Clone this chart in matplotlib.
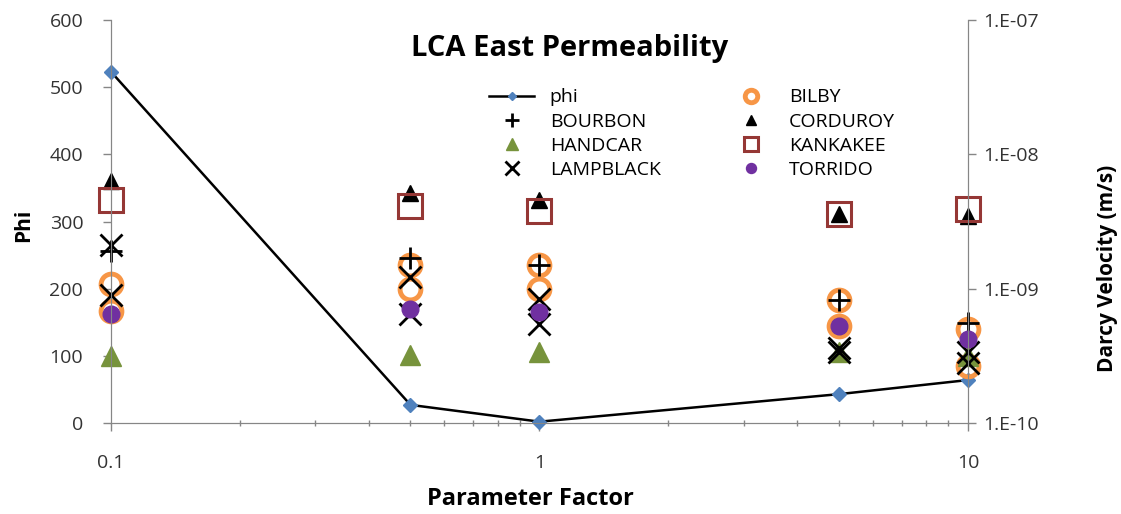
import math

import matplotlib
matplotlib.use("Agg")
from matplotlib import pyplot as plt
from matplotlib.ticker import FixedLocator, FuncFormatter, NullFormatter, LogLocator

plt.rcParams['font.family'] = ['Open Sans', 'DejaVu Sans']

# parameter factors
factors = [0.1, 0.5, 1, 5, 10]
phi = [523, 27, 2, 43, 64]

# darcy velocity (m/s) per well, two values where two markers show
bilby_x = [0.1, 0.1, 0.5, 0.5, 1, 1, 5, 5, 10, 10]
bilby_v = [1.08e-9, 6.8e-10, 1.5e-9, 1.0e-9, 1.5e-9, 1.0e-9, 8.2e-10, 5.3e-10, 5.0e-10, 2.66e-10]
bourbon_v = [1.9e-9, 1.7e-9, 1.5e-9, 8.2e-10, 5.6e-10]
corduroy_v = [6.3e-9, 5.2e-9, 4.6e-9, 3.6e-9, 3.5e-9]
handcar_v = [3.16e-10, 3.2e-10, 3.35e-10, 3.35e-10, 3.16e-10]
kankakee_v = [4.6e-9, 4.1e-9, 3.8e-9, 3.6e-9, 3.9e-9]
lampblack_x = [0.1, 0.1, 0.5, 0.5, 1, 1, 5, 5, 10, 10]
lampblack_v = [2.1e-9, 8.9e-10, 1.23e-9, 6.5e-10, 8.4e-10, 5.5e-10, 3.6e-10, 3.35e-10, 3.35e-10, 2.8e-10]
torrido_v = [6.5e-10, 7.1e-10, 6.7e-10, 5.3e-10, 4.2e-10]

GRAY = '#868686'

fig = plt.figure(figsize=(11.21, 5.14), dpi=100)
ax = fig.add_axes([0.099, 0.177, 0.7645, 0.784])
ax2 = ax.twinx()

h_phi, = ax.plot(factors, phi, color='black', lw=1.8, marker='D', ms=7,
                 mfc='#4F81BD', mec='#4F81BD', label='phi', zorder=3, clip_on=False)

h_bil, = ax2.plot(bilby_x, bilby_v, ls='none', marker='o', ms=15, mfc='none',
                  mec='#F79646', mew=3.5, label='BILBY', clip_on=False)
h_bou, = ax2.plot(factors, bourbon_v, ls='none', marker='+', ms=16, mew=2,
                  color='black', label='BOURBON', clip_on=False)
h_cor, = ax2.plot(factors, corduroy_v, ls='none', marker='^', ms=12,
                  color='black', label='CORDUROY', clip_on=False)
h_han, = ax2.plot(factors, handcar_v, ls='none', marker='^', ms=15,
                  color='#77933C', label='HANDCAR', clip_on=False)
h_kan, = ax2.plot(factors, kankakee_v, ls='none', marker='s', ms=17, mfc='none',
                  mec='#953735', mew=2.2, label='KANKAKEE', clip_on=False)
h_lam, = ax2.plot(lampblack_x, lampblack_v, ls='none', marker='x', ms=16, mew=2,
                  color='black', label='LAMPBLACK', clip_on=False)
h_tor, = ax2.plot(factors, torrido_v, ls='none', marker='o', ms=12,
                  color='#7030A0', label='TORRIDO', clip_on=False)

ax.set_xscale('log')
ax.set_xlim(0.1, 10)
ax.set_ylim(0, 600)
ax.set_yticks(range(0, 601, 100))
ax.xaxis.set_major_locator(FixedLocator([0.1, 1, 10]))
ax.xaxis.set_major_formatter(FuncFormatter(lambda v, p: '%g' % v))
ax.xaxis.set_minor_locator(LogLocator(base=10, subs=range(2, 10)))
ax.xaxis.set_minor_formatter(NullFormatter())

ax2.set_yscale('log')
ax2.set_ylim(1e-10, 1e-7)
ax2.yaxis.set_major_locator(FixedLocator([1e-10, 1e-9, 1e-8, 1e-7]))
ax2.yaxis.set_major_formatter(FuncFormatter(lambda v, p: '1.E-%02d' % round(-math.log10(v))))
ax2.yaxis.set_minor_formatter(NullFormatter())
ax2.yaxis.set_minor_locator(FixedLocator([]))

for a in (ax, ax2):
    a.spines['top'].set_visible(False)
    for s in ('left', 'right', 'bottom'):
        a.spines[s].set_color(GRAY)
    a.tick_params(axis='both', which='major', color=GRAY, length=6, width=1,
                  labelsize=14, labelcolor='#333333')
    a.tick_params(axis='both', which='minor', color=GRAY, length=5, width=1, direction='inout')
ax.tick_params(axis='x', which='major', pad=16)
ax.tick_params(axis='y', which='major', pad=14)
ax2.tick_params(axis='y', which='major', pad=5)

ax.set_ylabel('Phi', fontsize=15, fontweight='bold')
ax.yaxis.set_label_coords(-0.09, 0.49)
ax.set_xlabel('Parameter Factor', fontsize=17, fontweight='bold')
ax.xaxis.set_label_coords(0.49, -0.16)
ax2.set_ylabel('Darcy Velocity (m/s)', fontsize=15, fontweight='bold')
ax2.yaxis.set_label_coords(1.15, 0.385)

fig.text(0.508, 0.906, 'LCA East Permeability', fontsize=21, fontweight='bold',
         ha='center', va='center')

handles = [h_phi, h_bou, h_han, h_lam, h_bil, h_cor, h_kan, h_tor]
leg = ax2.legend(handles=handles, ncol=2, loc='upper left',
                 bbox_to_anchor=(0.421, 0.862), bbox_transform=fig.transFigure,
                 frameon=False, fontsize=14, markerscale=0.6,
                 columnspacing=3.5, handlelength=2.3, handletextpad=0.8,
                 labelspacing=0.32)

fig.savefig('out.png', dpi=100)
